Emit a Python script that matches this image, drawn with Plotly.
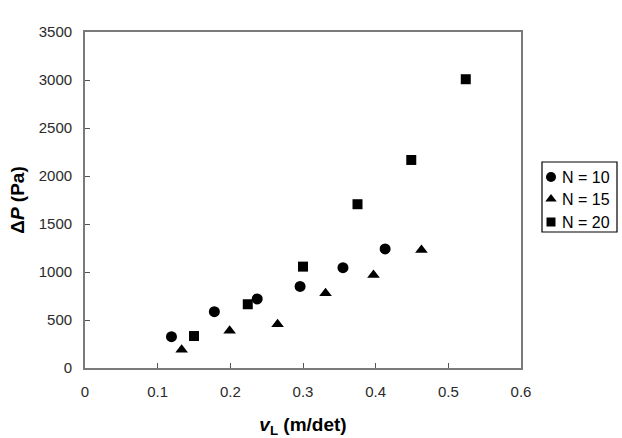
import plotly.graph_objects as go

# data
x_n10 = [0.119, 0.178, 0.237, 0.296, 0.355, 0.413]
y_n10 = [326, 587, 719, 850, 1045, 1240]
x_n15 = [0.133, 0.199, 0.265, 0.331, 0.397, 0.463]
y_n15 = [190, 389, 455, 778, 969, 1230]
x_n20 = [0.150, 0.224, 0.300, 0.375, 0.449, 0.524]
y_n20 = [333, 664, 1056, 1706, 2167, 3008]
series_names = ["N = 10", "N = 15", "N = 20"]
x_ticks = [0, 0.1, 0.2, 0.3, 0.4, 0.5, 0.6]
y_ticks = [0, 500, 1000, 1500, 2000, 2500, 3000, 3500]

FONT = "Liberation Sans, Arial, sans-serif"
symbols = ["circle", "triangle-up", "square"]
sizes = [11, 11, 10]

fig = go.Figure()
for xs, ys, name, sym, sz in zip([x_n10, x_n15, x_n20], [y_n10, y_n15, y_n20],
                                 series_names, symbols, sizes):
    fig.add_trace(go.Scatter(x=xs, y=ys, mode="markers", name=name, showlegend=False,
                             marker=dict(symbol=sym, size=sz, color="black")))

# custom compact legend drawn on a helper axis (units = pixels inside the box)
leg_rows = [55, 33, 10]
for name, sym, sz, ry in zip(series_names, symbols, sizes, leg_rows):
    fig.add_trace(go.Scatter(x=[9], y=[ry], mode="markers", name=name, showlegend=False,
                             xaxis="x2", yaxis="y2", hoverinfo="skip",
                             marker=dict(symbol=sym, size=sz - 1, color="black")))
    fig.add_annotation(x=18, y=ry, xref="x2", yref="y2", text=name, showarrow=False,
                       xanchor="left", yanchor="middle",
                       font=dict(family=FONT, size=16, color="black"))
fig.add_shape(type="rect", xref="x2 domain", yref="y2 domain", x0=0, x1=1, y0=0, y1=1,
              line=dict(color="black", width=1.2), layer="below")

axis_common = dict(showgrid=False, zeroline=False, showline=True, mirror=True,
                   linecolor="#7a7a7a", linewidth=1.8, ticks="inside", ticklen=5,
                   tickcolor="#555555", tickwidth=1,
                   tickfont=dict(family=FONT, size=15, color="#2a2a2a"))

W_PLOT = 537.0
fig.update_layout(
    width=622, height=438,
    margin=dict(l=85, r=0, t=32, b=70, autoexpand=False),
    paper_bgcolor="white", plot_bgcolor="white",
    showlegend=False,
    xaxis=dict(domain=[0, 436 / W_PLOT], range=[0, 0.6], tickvals=x_ticks,
               ticktext=[str(v) for v in x_ticks], ticklabelstandoff=9,
               title=dict(text="<b><i>v</i><sub>L</sub> (m/det)</b>", standoff=19,
                          font=dict(family=FONT, size=19, color="black")),
               **axis_common),
    yaxis=dict(domain=[0, 1], range=[0, 3500], tickvals=y_ticks, ticklabelstandoff=8,
               title=dict(text="<b>Δ<i>P</i> (Pa)</b>", standoff=9,
                          font=dict(family=FONT, size=19, color="black")),
               **axis_common),
    xaxis2=dict(domain=[(542 - 85) / W_PLOT, (617 - 85) / W_PLOT], range=[0, 75],
                visible=False, fixedrange=True),
    yaxis2=dict(domain=[(368 - 232) / 336, (368 - 162) / 336], range=[0, 70],
                visible=False, fixedrange=True, anchor="x2"),
)

fig.write_html("out.html")
